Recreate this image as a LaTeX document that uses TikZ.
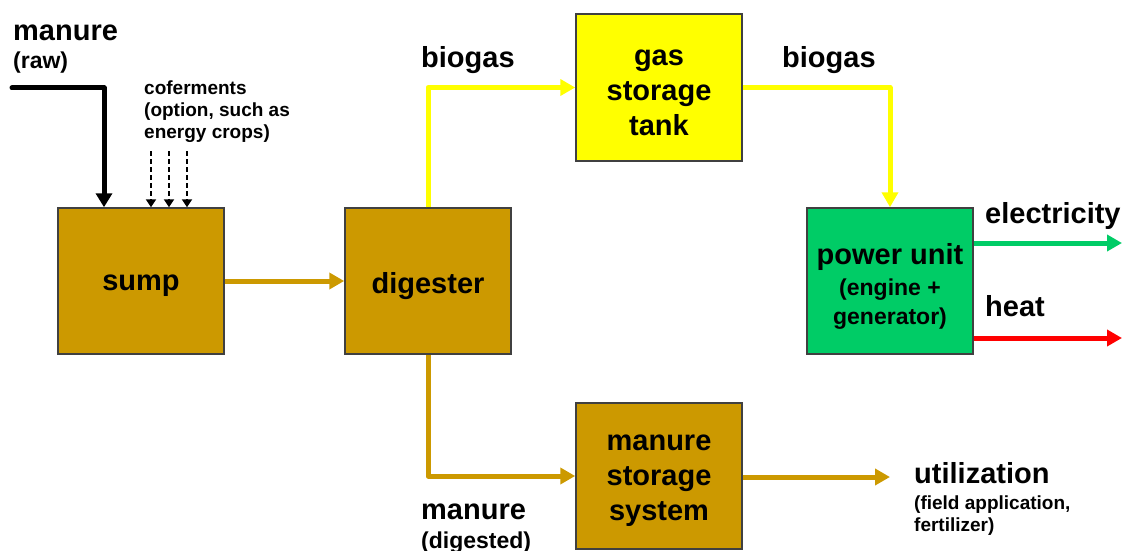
\documentclass[tikz,border=0pt]{standalone}
\usepackage{fontspec}
\setmainfont{Liberation Sans}
\usetikzlibrary{arrows.meta}
\definecolor{gold}{HTML}{CC9900}
\definecolor{yel}{HTML}{FFFF00}
\definecolor{grn}{HTML}{00CC66}
\definecolor{rd}{HTML}{FF0000}
\definecolor{bord}{HTML}{404040}
\newcommand{\bigf}{\bfseries\fontsize{29}{35}\selectfont}
\newcommand{\midf}{\bfseries\fontsize{23}{27}\selectfont}
\newcommand{\smf}{\bfseries\fontsize{19}{22}\selectfont}
\begin{document}
\begin{tikzpicture}[x=1pt,y=-1pt,
  box/.style={draw=bord, line width=1.5pt, minimum width=166pt, minimum height=146pt, inner sep=0pt},
  boxtext/.style={font=\bigf, align=center, inner sep=0pt, yshift=-5pt},
  flow/.style={line width=5pt, -{Triangle[length=15pt,width=16pt]}},
  dflow/.style={line width=1.8pt, dash pattern=on 5pt off 3pt, -{Triangle[length=8pt,width=10pt]}},
  lbl/.style={inner sep=0pt, anchor=base west, align=left}]
\useasboundingbox (0,0) rectangle (1125,551);
% boxes
\node[box, fill=gold, label={[boxtext]center:sump}] (sump) at (141,281) {};
\node[box, fill=gold, label={[boxtext]center:digester}] (dig) at (428,281) {};
\node[box, fill=yel, minimum height=147pt, label={[boxtext]center:gas\\storage\\tank}] (gas) at (659,87.5) {};
\node[box, fill=grn, label={[boxtext]center:power unit\\[-4pt]\midf(engine +\\[-6pt]\midf generator)}] (power) at (890,281) {};
\node[box, fill=gold, label={[boxtext]center:manure\\storage\\system}] (mss) at (659,476) {};
% labels
\node[lbl, font=\bigf] (lraw) at (13,41) {manure};
\node[lbl, font=\midf] (lraw2) at (13,69) {(raw)};
\node[lbl, font=\smf, anchor=north west] (lcof) at (144,81) {coferments\\(option, such as\\energy crops)};
\node[lbl, font=\bigf] (lbio1) at (421,68) {biogas};
\node[lbl, font=\bigf] (lbio2) at (782,68) {biogas};
\node[lbl, font=\bigf] (lel) at (985,223) {electricity};
\node[lbl, font=\bigf] (lheat) at (985,316) {heat};
\node[lbl, font=\bigf] (lutil) at (914,483) {utilization};
\node[lbl, font=\smf, anchor=north west] (lutil2) at (914,496) {(field application,\\fertilizer)};
\node[lbl, font=\bigf] (ldig) at (421,519) {manure};
\node[lbl, font=\midf] (ldig2) at (421,548) {(digested)};
% free ends
\coordinate (rawstart) at (12,88);
\coordinate (c1) at (151,151);
\coordinate (c2) at (169,151);
\coordinate (c3) at (187,151);
\coordinate (eend) at (1122,243);
\coordinate (hend) at (1122,338);
\coordinate (uend) at (890,477);
% connectors
\draw[line width=5pt, -{Triangle[length=14pt,width=16pt]}, line join=round, line cap=round] (rawstart) -| ([xshift=-37pt]sump.north);
\draw[dflow] (c1) -- (c1 |- sump.north);
\draw[dflow] (c2) -- (c2 |- sump.north);
\draw[dflow] (c3) -- (c3 |- sump.north);
\draw[flow, gold] (sump) -- (dig);
\draw[flow, yel, line join=round] (dig.north) |- (gas.west);
\draw[flow, yel, line join=round] (gas.east) -| (power.north);
\draw[flow, grn] (power.east |- eend) -- (eend);
\draw[flow, rd] (power.east |- hend) -- (hend);
\draw[flow, gold, line join=round] (dig.south) |- (mss.west);
\draw[flow, gold] (mss.east |- uend) -- (uend);
\end{tikzpicture}
\end{document}
